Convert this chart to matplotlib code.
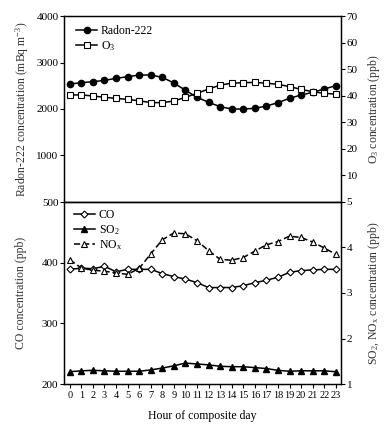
import matplotlib
matplotlib.use("Agg")
import matplotlib.pyplot as plt
from matplotlib.lines import Line2D

plt.rcParams['font.family'] = ['Liberation Serif', 'DejaVu Serif']
plt.rcParams['mathtext.fontset'] = 'custom'
plt.rcParams['mathtext.rm'] = 'Liberation Serif'
plt.rcParams['mathtext.it'] = 'Liberation Serif:italic'
plt.rcParams['font.size'] = 8

hours = list(range(24))

# top panel
radon = [2538, 2566, 2588, 2616, 2659, 2695, 2731, 2731, 2681, 2559, 2402, 2251,
         2144, 2050, 2000, 2000, 2014, 2064, 2136, 2229, 2301, 2358, 2430, 2502]
o3 = [40.3, 40.3, 39.9, 39.4, 39.0, 38.6, 38.1, 37.4, 37.4, 38.0, 39.4, 40.9,
      42.5, 44.0, 44.7, 44.9, 45.0, 44.7, 44.3, 43.4, 42.4, 41.5, 40.9, 40.6]

# bottom panel
co = [389, 391, 390, 394, 385, 389, 389, 389, 382, 377, 373, 367,
      359, 359, 359, 362, 367, 371, 376, 384, 387, 388, 389, 389]
so2 = [1.27, 1.29, 1.30, 1.29, 1.28, 1.28, 1.28, 1.31, 1.35, 1.40, 1.46, 1.44,
       1.42, 1.39, 1.38, 1.38, 1.36, 1.34, 1.30, 1.28, 1.29, 1.29, 1.29, 1.27]
nox = [3.73, 3.55, 3.50, 3.48, 3.44, 3.41, 3.54, 3.86, 4.17, 4.32, 4.30, 4.15,
       3.93, 3.74, 3.72, 3.78, 3.92, 4.06, 4.13, 4.25, 4.22, 4.12, 3.99, 3.85]

W, H = 391, 426
fig = plt.figure(figsize=(W / 100, H / 100), dpi=100)
L, R = 64, 341
ax1 = fig.add_axes([L / W, (H - 202) / H, (R - L) / W, 186 / H])
ax2 = fig.add_axes([L / W, (H - 384) / H, (R - L) / W, 182 / H])
ax1r = ax1.twinx()
ax2r = ax2.twinx()

lw = 1.1
ax1.plot(hours, radon, color='black', lw=lw, marker='o', ms=4.5, mfc='black', mec='black')
ax1r.plot(hours, o3, color='black', lw=lw, marker='s', ms=4.5, mfc='white', mec='black', mew=0.8)

ax2.plot(hours, co, color='black', lw=lw, marker='D', ms=3.5, mfc='white', mec='black', mew=0.8)
ax2r.plot(hours, so2, color='black', lw=lw, marker='^', ms=4.5, mfc='black', mec='black')
ax2r.plot(hours, nox, color='black', lw=lw, ls=(0, (4, 2)), marker='^', ms=5, mfc='white', mec='black', mew=0.8)

for a in (ax1, ax1r, ax2, ax2r):
    a.set_xlim(-0.5, 23.45)
    a.tick_params(direction='out', length=3, width=0.8, colors='black', labelsize=8, pad=1)
    for s in a.spines.values():
        s.set_linewidth(0.9)

ax1.set_ylim(0, 4000)
ax1.set_yticks([1000, 2000, 3000, 4000])
ax1r.set_ylim(0, 70)
ax1r.set_yticks([10, 20, 30, 40, 50, 60, 70])
ax1.set_xticks([])
ax1r.set_xticks([])

ax2.set_ylim(200, 500)
ax2.set_yticks([200, 300, 400, 500])
ax2r.set_ylim(1, 5)
ax2r.set_yticks([1, 2, 3, 4, 5])
ax2.set_xticks(hours)
ax2.tick_params(axis='x', labelsize=7.5, pad=2)

lc = '#333333'
ax1.set_ylabel('Radon-222 concentration (mBq m$^{-3}$)', color=lc, fontsize=8.5, labelpad=4)
ax1r.set_ylabel('O$_3$ concentration (ppb)', color=lc, fontsize=8.5, labelpad=6)
ax2.set_ylabel('CO concentration (ppb)', color=lc, fontsize=8.5, labelpad=11)
ax2r.set_ylabel('SO$_2$, NO$_\\mathrm{x}$ concentration (ppb)', color=lc, fontsize=8.5, labelpad=10)
ax2.set_xlabel('Hour of composite day', fontsize=8.5, labelpad=7)

h_top = [Line2D([], [], color='black', lw=lw, marker='o', ms=4.5, mfc='black'),
         Line2D([], [], color='black', lw=lw, marker='s', ms=4.5, mfc='white', mew=0.8)]
ax1r.legend(h_top, ['Radon-222', 'O$_3$'], loc='upper left', frameon=False,
            fontsize=8.5, handlelength=1.8, handletextpad=0.3, labelspacing=0.15,
            borderaxespad=0.4, bbox_to_anchor=(0.01, 1.0))

h_bot = [Line2D([], [], color='black', lw=lw, marker='D', ms=3.5, mfc='white', mew=0.8),
         Line2D([], [], color='black', lw=lw, marker='^', ms=4.5, mfc='black'),
         Line2D([], [], color='black', lw=lw, ls=(0, (4, 2)), marker='^', ms=5, mfc='white', mew=0.8)]
ax2r.legend(h_bot, ['CO', 'SO$_2$', 'NO$_\\mathrm{x}$'], loc='upper left', frameon=False,
            fontsize=8.5, handlelength=1.8, handletextpad=0.3, labelspacing=0.15,
            borderaxespad=0.2, bbox_to_anchor=(0.01, 1.0))

fig.savefig('out.png', dpi=100)
